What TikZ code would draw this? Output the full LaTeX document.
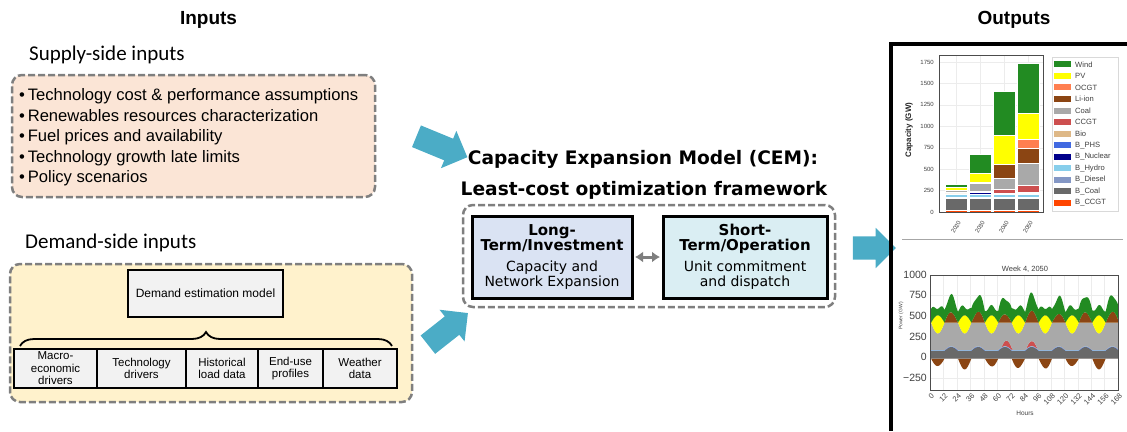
\documentclass[tikz,border=0pt]{standalone}
\usepackage{fontspec}
\setmainfont{Liberation Sans}
\newfontfamily\verdana{DejaVu Sans}
\newfontfamily\lightsans{Carlito}
\usetikzlibrary{shapes.arrows,arrows.meta,decorations.pathreplacing}

\definecolor{supplyfill}{HTML}{FBE5D6}
\definecolor{demandfill}{HTML}{FFF2CC}
\definecolor{boxgray}{HTML}{F2F2F2}
\definecolor{longfill}{HTML}{DAE3F3}
\definecolor{shortfill}{HTML}{DAEEF3}
\definecolor{arrowteal}{HTML}{4BACC6}
\definecolor{dashgray}{HTML}{7F7F7F}
% technology colours, bottom of the stack first
\definecolor{tech1}{HTML}{FF4500}  % B_CCGT
\definecolor{tech2}{HTML}{696969}  % B_Coal
\definecolor{tech3}{HTML}{8497C5}  % B_Diesel
\definecolor{tech4}{HTML}{87CEEB}  % B_Hydro
\definecolor{tech5}{HTML}{00008B}  % B_Nuclear
\definecolor{tech6}{HTML}{4169E1}  % B_PHS
\definecolor{tech7}{HTML}{DEB887}  % Bio
\definecolor{tech8}{HTML}{CD4F4F}  % CCGT
\definecolor{tech9}{HTML}{A9A9A9}  % Coal
\definecolor{tech10}{HTML}{8B4513} % Li-ion
\definecolor{tech11}{HTML}{FF7F50} % OCGT
\definecolor{tech12}{HTML}{FFFF00} % PV
\definecolor{tech13}{HTML}{228B22} % Wind

\newcommand\cemhead[1]{{\bfseries\fontsize{15}{15}\selectfont #1}}

\begin{document}
\begin{tikzpicture}[x=1pt,y=-1pt,
  dashbox/.style={draw=dashgray,line width=2.5pt,dash pattern=on 7pt off 3pt,rounded corners=10pt,inner sep=0},
  graybox/.style={draw=black,line width=1.2pt,fill=boxgray,align=center,inner sep=0,font=\fontsize{11.5}{12.5}\selectfont},
  cembox/.style={draw=black,line width=3pt,minimum width=160pt,minimum height=82pt,align=center,inner sep=0,font=\verdana\fontsize{14}{15}\selectfont},
  blockarrow/.style={single arrow,fill=arrowteal,inner xsep=0pt,inner ysep=11.5pt,single arrow head extend=8.5pt,single arrow tip angle=90},
  bulletline/.style={anchor=west,inner sep=0,text height=11pt,text depth=3.5pt,font=\fontsize{16.6}{18}\selectfont},
  ticklabel/.style={inner sep=0,text=darkgray,font=\fontsize{6}{7}\selectfont},
  declare function={
    px(\t)=930+1.119*\t; py(\v)=357.3-0.0828*\v;
    pv(\t)=220*max(0,sin(15*(\t-1)));
    ev(\t)=max(0,sin(15*(\t-13)));
    fm(\t)=1+0.2*sin(9*\t);
    cgt(\t)=70*max(0,1-((\t-69)/5)^2)+60*max(0,1-((\t-91)/5)^2);
    zero(\t)=-15; ng(\t)=-15-0.5*pv(\t)*fm(\t+20);
    fa(\t)=80+45*ev(\t); fb(\t)=fa(\t)+5; fc(\t)=fa(\t)+10;
    fd(\t)=fc(\t)+cgt(\t);
    fe(\t)=420-0.6*pv(\t); ff(\t)=fe(\t)+pv(\t);
    fg(\t)=ff(\t)+120*ev(\t)*fm(\t);
    fh(\t)=fg(\t)+150+50*sin(15*(\t-13))+25*sin(41*\t);
  }]
\useasboundingbox (0,0) rectangle (1127,431);

% titles
\node[font=\bfseries\fontsize{19}{20}\selectfont] (inputs) at (208.5,20) {Inputs};
\node[font=\bfseries\fontsize{19}{20}\selectfont] (outputs) at (1014,20) {Outputs};

% supply side
\node[anchor=west,inner sep=0,font=\lightsans\fontsize{21}{23}\selectfont] (supplytitle) at (29,55) {Supply-side inputs};
\node[dashbox,fill=supplyfill,minimum width=363pt,minimum height=122pt] (supply) at (193.5,136) {};
\foreach \txt [count=\i] in {Technology cost \& performance assumptions,Renewables resources characterization,Fuel prices and availability,Technology growth late limits,Policy scenarios}
  \node[bulletline] (s\i) at (19,{97+20.5*(\i-1)}) {\textbullet\,\txt};

% demand side
\node[anchor=west,inner sep=0,font=\lightsans\fontsize{21}{23}\selectfont] (demandtitle) at (25,243) {Demand-side inputs};
\node[dashbox,fill=demandfill,minimum width=402pt,minimum height=138pt] (demand) at (211,333) {};
\node[graybox,minimum width=155pt,minimum height=47pt,font=\fontsize{12}{13}\selectfont] (model) at (205.5,293.5) {Demand estimation model};
\draw[decorate,decoration={brace,amplitude=14pt},line width=1.8pt] (20,346) -- (392,346);
\foreach \xl/\xr/\txt [count=\i] in {14/97/{Macro-\\economic\\drivers},97/186/{Technology\\drivers},186/258/{Historical\\load data},258/323/{End-use\\profiles},323/397/{Weather\\data}}
  \node[graybox,minimum width={(\xr-\xl)*1pt},minimum height=39pt] (d\i) at ({(\xl+\xr)/2},368.5) {\txt};

% block arrows
\node[blockarrow,minimum height=55pt,rotate=-22.4] (arrsupply) at (436.5,144.5) {};
\node[blockarrow,minimum height=51pt,rotate=38.3] (arrdemand) at (443.3,332.5) {};
\node[blockarrow,minimum height=43pt] (arrout) at (868.5,248) {};

% capacity expansion model
\node[font=\verdana\bfseries\fontsize{18.6}{20}\selectfont] (cemtitle) at (643,159) {Capacity Expansion Model (CEM):};
\node[font=\verdana\bfseries\fontsize{18.6}{20}\selectfont] (cemsub) at (644,190) {Least-cost optimization framework};
\node[dashbox,fill=white,minimum width=372pt,minimum height=102pt] (cem) at (649,256) {};
\node[cembox,fill=longfill] (lt) at (552,257) {\cemhead{Long-}\\\cemhead{Term/Investment}\\[6pt]Capacity and\\Network Expansion};
\node[cembox,fill=shortfill,minimum width=164pt] (st) at (745,257) {\cemhead{Short-}\\\cemhead{Term/Operation}\\[6pt]Unit commitment\\and dispatch};
\draw[{Latex[length=8pt,width=11pt]}-{Latex[length=8pt,width=11pt]},line width=3pt,dashgray,shorten <=1.5pt,shorten >=1.5pt] (lt) -- (st);

% output panel
\draw[line width=4pt] (891,431) -- (891,44) -- (1127,44);
\draw[gray!70,line width=0.8pt] (902,239) -- (1123,239);

% capacity chart
\foreach \v in {250,500,...,1750}
  \draw[gray!15] (939,{212-0.0857*\v}) -- (1043,{212-0.0857*\v});
\foreach \b in {1,...,4}
  \draw[gray!15] ({956+24*(\b-1)},55) -- ({956+24*(\b-1)},212);
\foreach \yr/\tops [count=\b] in {2020/{25,165,172,212,222,226,226,230,252,252,252,285,325},2030/{25,165,172,212,227,232,232,245,335,348,348,455,680},2040/{25,160,168,205,215,220,222,265,395,560,560,895,1415},2050/{25,160,168,205,220,225,228,310,570,745,855,1150,1735}}{
  \foreach \t [count=\k,remember=\t as \s (initially 0)] in \tops
    \fill[tech\k,draw=white,line width=0.3pt] ({945+24*(\b-1)},{212-0.0857*\s}) rectangle ++(22,{-0.0857*(\t-\s)});
  \node[ticklabel,rotate=60] (yr\b) at ({956+24*(\b-1)},227) {\yr};
}
\draw[gray!60!black,line width=0.6pt] (939,55) rectangle (1043,212);
\foreach \v in {0,250,...,1750}
  \node[ticklabel,anchor=east] (cap\v) at (934,{212-0.0857*\v}) {\v};
\node[rotate=90,inner sep=0,text=black!85,font=\bfseries\fontsize{8}{9}\selectfont] (caplabel) at (909,130) {Capacity (GW)};
\node[draw=gray!30,fill=white,minimum width=66pt,minimum height=154pt,inner sep=0] (legend) at (1085,134) {};
\foreach \name [count=\k] in {Wind,PV,OCGT,Li-ion,Coal,CCGT,Bio,B\_PHS,B\_Nuclear,B\_Hydro,B\_Diesel,B\_Coal,B\_CCGT}{
  \pgfmathtruncatemacro\c{14-\k}
  \fill[tech\c] (1054,{61.3+11.56*(\k-1)}) rectangle ++(17,6);
  \node[ticklabel,anchor=west,font=\fontsize{7.6}{8}\selectfont] (leg\k) at (1075,{64.3+11.56*(\k-1)}) {\name};
}

% dispatch chart
\foreach \h in {0,12,...,168}
  \draw[gray!15] ({px(\h)},275) -- ({px(\h)},390);
\foreach \v in {750,500,250,0,-250}
  \draw[gray!15] (930,{py(\v)}) -- (1118,{py(\v)});
\foreach \lo/\hi/\col in {ng/zero/tech10,zero/fa/tech2,fa/fb/tech6,fb/fc/tech4,fc/fd/tech8,fd/fe/tech9,fe/ff/tech12,ff/fg/tech10,fg/fh/tech13}
  \fill[\col] plot[domain=0:168,samples=169] ({px(\x)},{py(\hi(\x))}) -- plot[domain=168:0,samples=169] ({px(\x)},{py(\lo(\x))}) -- cycle;
\draw[gray!60!black,line width=0.6pt] (930,275) rectangle (1118,390);
\foreach \v/\lab in {1000/1000,750/750,500/500,250/250,0/0,-250/−250}
  \node[ticklabel,anchor=east,font=\fontsize{10.5}{11}\selectfont] (pw\v) at (927,{py(\v)}) {\lab};
\foreach \h in {0,12,...,168}
  \node[ticklabel,rotate=45,anchor=east,font=\fontsize{7.5}{8}\selectfont] (hr\h) at ({px(\h)+3},395) {\h};
\node[ticklabel,font=\fontsize{7.5}{8}\selectfont] (weektitle) at (1025,269) {Week 4, 2050};
\node[ticklabel,rotate=90,font=\fontsize{5}{6}\selectfont] (pwlabel) at (901,316) {Power (GW)};
\node[ticklabel,font=\fontsize{6.5}{7}\selectfont] (hrlabel) at (1025,413) {Hours};
\end{tikzpicture}
\end{document}
